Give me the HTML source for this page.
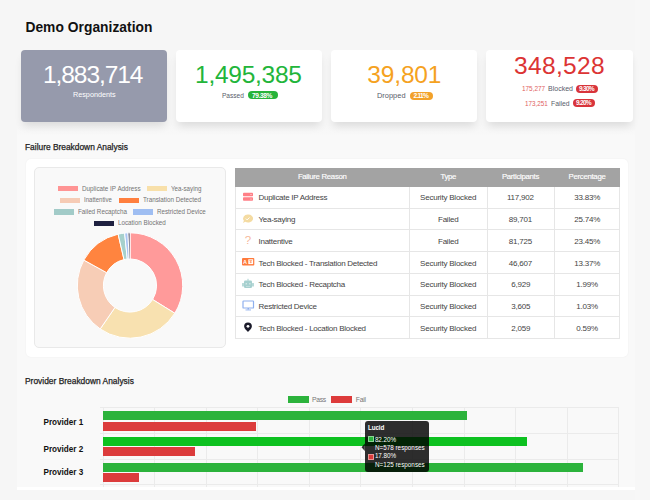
<!DOCTYPE html>
<html><head><meta charset="utf-8"><style>
html,body{margin:0;padding:0;}
body{width:650px;height:500px;overflow:hidden;position:relative;background:#f6f6f6;font-family:"Liberation Sans", sans-serif;}
</style></head><body>
<div style="position:absolute;left:17.00px;top:126.00px;width:618.00px;height:361.00px;background:linear-gradient(#f6f6f6 0px,#f9f9f9 10px);"></div>
<div style="position:absolute;left:17.00px;top:487.00px;width:618.00px;height:3.00px;background:#ffffff;"></div>
<div style="position:absolute;left:635.00px;top:0.00px;width:15.00px;height:500.00px;background:#f7f7f7;"></div>
<div style="position:absolute;left:25.40px;top:20px;line-height:16.56px;font-size:13.8px;font-weight:bold;color:#111;white-space:nowrap;letter-spacing:0.037px;">Demo Organization</div>
<div style="position:absolute;left:20.50px;top:50.00px;width:146.70px;height:71.50px;background:#969aac;box-shadow:0 6px 9px -2px rgba(0,0,0,0.11);border-radius:4px;"></div>
<div style="position:absolute;left:176.00px;top:50.00px;width:146.00px;height:72.00px;background:#fff;box-shadow:0 6px 9px -2px rgba(0,0,0,0.11);border-radius:4px;"></div>
<div style="position:absolute;left:331.00px;top:50.00px;width:146.00px;height:72.00px;background:#fff;box-shadow:0 6px 9px -2px rgba(0,0,0,0.11);border-radius:4px;"></div>
<div style="position:absolute;left:486.00px;top:50.00px;width:146.80px;height:72.00px;background:#fff;box-shadow:0 6px 9px -2px rgba(0,0,0,0.11);border-radius:4px;"></div>
<div style="position:absolute;left:43.00px;top:60px;line-height:29.4px;font-size:24.5px;font-weight:normal;color:#fff;white-space:nowrap;letter-spacing:-1.062px;">1,883,714</div>
<div style="position:absolute;left:72.80px;top:90px;line-height:9.6px;font-size:8.0px;font-weight:normal;color:#fff;white-space:nowrap;letter-spacing:0.000px;transform:scaleX(0.9043);transform-origin:0px 0;">Respondents</div>
<div style="position:absolute;left:195.00px;top:60px;line-height:29.4px;font-size:24.5px;font-weight:normal;color:#22b53a;white-space:nowrap;letter-spacing:-0.250px;">1,495,385</div>
<div style="position:absolute;left:221.70px;top:91px;line-height:9.6px;font-size:8.0px;font-weight:normal;color:#585c6a;white-space:nowrap;letter-spacing:0.000px;transform:scaleX(0.8185);transform-origin:0px 0;">Passed</div>
<div style="position:absolute;left:247.80px;top:91.20px;width:29.80px;height:8.30px;background:#27b33a;border-radius:5px;"></div>
<div style="position:absolute;left:252.10px;top:92px;line-height:7.92px;font-size:6.6px;font-weight:bold;color:#fff;white-space:nowrap;letter-spacing:-0.400px;">79.38%</div>
<div style="position:absolute;left:367.30px;top:60px;line-height:29.4px;font-size:24.5px;font-weight:normal;color:#f5a21f;white-space:nowrap;letter-spacing:-0.160px;">39,801</div>
<div style="position:absolute;left:376.70px;top:91px;line-height:9.6px;font-size:8.0px;font-weight:normal;color:#585c6a;white-space:nowrap;letter-spacing:0.000px;transform:scaleX(0.9290);transform-origin:0px 0;">Dropped</div>
<div style="position:absolute;left:410.00px;top:91.50px;width:23.00px;height:8.30px;background:#f2a12a;border-radius:5px;"></div>
<div style="position:absolute;left:413.50px;top:92px;line-height:7.92px;font-size:6.6px;font-weight:bold;color:#fff;white-space:nowrap;letter-spacing:-0.750px;">2.11%</div>
<div style="position:absolute;left:513.90px;top:51px;line-height:29.4px;font-size:24.5px;font-weight:normal;color:#dc3434;white-space:nowrap;letter-spacing:0.383px;">348,528</div>
<div style="position:absolute;left:521.60px;top:84px;line-height:9.6px;font-size:8.0px;font-weight:normal;color:#e06060;white-space:nowrap;letter-spacing:0.000px;transform:scaleX(0.8000);transform-origin:0px 0;">175,277</div>
<div style="position:absolute;left:547.80px;top:84px;line-height:9.6px;font-size:8.0px;font-weight:normal;color:#585c6a;white-space:nowrap;letter-spacing:0.000px;transform:scaleX(0.8759);transform-origin:0px 0;">Blocked</div>
<div style="position:absolute;left:576.00px;top:84.80px;width:22.10px;height:7.90px;background:#d8343b;border-radius:5px;"></div>
<div style="position:absolute;left:579.00px;top:85px;line-height:7.92px;font-size:6.6px;font-weight:bold;color:#fff;white-space:nowrap;letter-spacing:-0.750px;">9.30%</div>
<div style="position:absolute;left:525.40px;top:99px;line-height:9.6px;font-size:8.0px;font-weight:normal;color:#e06060;white-space:nowrap;letter-spacing:0.000px;transform:scaleX(0.7862);transform-origin:0px 0;">173,251</div>
<div style="position:absolute;left:551.00px;top:99px;line-height:9.6px;font-size:8.0px;font-weight:normal;color:#585c6a;white-space:nowrap;letter-spacing:0.000px;transform:scaleX(0.8500);transform-origin:0px 0;">Failed</div>
<div style="position:absolute;left:572.90px;top:99.10px;width:22.10px;height:7.90px;background:#d8343b;border-radius:5px;"></div>
<div style="position:absolute;left:576.00px;top:99px;line-height:7.92px;font-size:6.6px;font-weight:bold;color:#fff;white-space:nowrap;letter-spacing:-0.750px;">9.20%</div>
<div style="position:absolute;left:25.00px;top:142px;line-height:10.08px;font-size:8.4px;font-weight:normal;color:#222;white-space:nowrap;letter-spacing:0.000px;-webkit-text-stroke:0.25px #222;">Failure Breakdown Analysis</div>
<div style="position:absolute;left:25.60px;top:158.80px;width:602.00px;height:198.20px;background:#fff;border-radius:5px;box-shadow:0 0 2px rgba(0,0,0,0.06);"></div>
<div style="position:absolute;left:33.60px;top:167.00px;width:192.80px;height:181.00px;background:#f9f9f9;border:1px solid #e9e9e9;border-radius:5px;box-sizing:border-box;"></div>
<div style="position:absolute;left:58.00px;top:185.80px;width:20.00px;height:5.50px;background:#ff9494;"></div>
<div style="position:absolute;left:82.40px;top:185px;line-height:8.16px;font-size:6.8px;font-weight:normal;color:#747474;white-space:nowrap;letter-spacing:0.000px;transform:scaleX(0.9302);transform-origin:0px 0;">Duplicate IP Address</div>
<div style="position:absolute;left:147.40px;top:185.80px;width:20.00px;height:5.50px;background:#f8e0aa;"></div>
<div style="position:absolute;left:171.00px;top:185px;line-height:8.16px;font-size:6.8px;font-weight:normal;color:#747474;white-space:nowrap;letter-spacing:0.000px;transform:scaleX(0.9118);transform-origin:0px 0;">Yea-saying</div>
<div style="position:absolute;left:59.60px;top:197.60px;width:20.00px;height:5.50px;background:#f6cbb5;"></div>
<div style="position:absolute;left:84.00px;top:196px;line-height:8.16px;font-size:6.8px;font-weight:normal;color:#747474;white-space:nowrap;letter-spacing:0.000px;transform:scaleX(0.8875);transform-origin:0px 0;">Inattentive</div>
<div style="position:absolute;left:118.60px;top:197.60px;width:20.00px;height:5.50px;background:#ff7f3e;"></div>
<div style="position:absolute;left:142.60px;top:196px;line-height:8.16px;font-size:6.8px;font-weight:normal;color:#747474;white-space:nowrap;letter-spacing:0.000px;transform:scaleX(0.9270);transform-origin:0px 0;">Translation Detected</div>
<div style="position:absolute;left:54.00px;top:209.20px;width:20.00px;height:5.50px;background:#a2cbc8;"></div>
<div style="position:absolute;left:78.00px;top:208px;line-height:8.16px;font-size:6.8px;font-weight:normal;color:#747474;white-space:nowrap;letter-spacing:0.000px;transform:scaleX(0.9245);transform-origin:0px 0;">Failed Recaptcha</div>
<div style="position:absolute;left:133.00px;top:209.20px;width:20.00px;height:5.50px;background:#9fbef2;"></div>
<div style="position:absolute;left:157.00px;top:208px;line-height:8.16px;font-size:6.8px;font-weight:normal;color:#747474;white-space:nowrap;letter-spacing:0.000px;transform:scaleX(0.9148);transform-origin:0px 0;">Restricted Device</div>
<div style="position:absolute;left:94.00px;top:220.80px;width:20.00px;height:5.50px;background:#1e2040;"></div>
<div style="position:absolute;left:118.00px;top:219px;line-height:8.16px;font-size:6.8px;font-weight:normal;color:#747474;white-space:nowrap;letter-spacing:0.000px;transform:scaleX(0.9231);transform-origin:0px 0;">Location Blocked</div>
<svg style="position:absolute;left:0;top:0" width="650" height="500"><path d="M130.00,232.80 A52.7,52.7 0 0 1 174.80,313.26 L152.61,299.51 A26.6,26.6 0 0 0 130.00,258.90 Z" fill="#ff9a9a" stroke="#fff" stroke-width="1"/><path d="M174.80,313.26 A52.7,52.7 0 0 1 100.20,328.96 L114.96,307.44 A26.6,26.6 0 0 0 152.61,299.51 Z" fill="#f8e1b0" stroke="#fff" stroke-width="1"/><path d="M100.20,328.96 A52.7,52.7 0 0 1 83.84,260.07 L106.70,272.66 A26.6,26.6 0 0 0 114.96,307.44 Z" fill="#f7cdb6" stroke="#fff" stroke-width="1"/><path d="M83.84,260.07 A52.7,52.7 0 0 1 118.14,234.15 L124.01,259.58 A26.6,26.6 0 0 0 106.70,272.66 Z" fill="#ff843f" stroke="#fff" stroke-width="1"/><path d="M118.14,234.15 A52.7,52.7 0 0 1 124.63,233.07 L127.29,259.04 A26.6,26.6 0 0 0 124.01,259.58 Z" fill="#a6d0cc" stroke="#fff" stroke-width="1"/><path d="M124.63,233.07 A52.7,52.7 0 0 1 128.04,232.84 L129.01,258.92 A26.6,26.6 0 0 0 127.29,259.04 Z" fill="#a9c4f3" stroke="#fff" stroke-width="1"/><path d="M128.04,232.84 A52.7,52.7 0 0 1 130.00,232.80 L130.00,258.90 A26.6,26.6 0 0 0 129.01,258.92 Z" fill="#1e2040" stroke="#fff" stroke-width="1"/></svg>
<div style="position:absolute;left:235.00px;top:167.50px;width:384.50px;height:19.00px;background:#a3a3a3;"></div>
<div style="position:absolute;left:235.00px;top:186.50px;width:1.00px;height:151.90px;background:#e6e6e6;"></div>
<div style="position:absolute;left:618.50px;top:186.50px;width:1.00px;height:151.90px;background:#e6e6e6;"></div>
<div style="position:absolute;left:409.35px;top:186.50px;width:1.00px;height:151.90px;background:#e6e6e6;"></div>
<div style="position:absolute;left:486.50px;top:186.50px;width:1.00px;height:151.90px;background:#e6e6e6;"></div>
<div style="position:absolute;left:554.00px;top:186.50px;width:1.00px;height:151.90px;background:#e6e6e6;"></div>
<div style="position:absolute;left:235.00px;top:207.70px;width:385.00px;height:1.00px;background:#e6e6e6;"></div>
<div style="position:absolute;left:235.00px;top:229.40px;width:385.00px;height:1.00px;background:#e6e6e6;"></div>
<div style="position:absolute;left:235.00px;top:251.10px;width:385.00px;height:1.00px;background:#e6e6e6;"></div>
<div style="position:absolute;left:235.00px;top:272.80px;width:385.00px;height:1.00px;background:#e6e6e6;"></div>
<div style="position:absolute;left:235.00px;top:294.50px;width:385.00px;height:1.00px;background:#e6e6e6;"></div>
<div style="position:absolute;left:235.00px;top:316.20px;width:385.00px;height:1.00px;background:#e6e6e6;"></div>
<div style="position:absolute;left:235.00px;top:337.90px;width:385.00px;height:1.00px;background:#e6e6e6;"></div>
<div style="position:absolute;left:297.88px;top:172px;line-height:9.36px;font-size:7.8px;font-weight:normal;color:#fff;white-space:nowrap;letter-spacing:-0.300px;-webkit-text-stroke:0.15px #fff;">Failure Reason</div>
<div style="position:absolute;left:440.38px;top:172px;line-height:9.36px;font-size:7.8px;font-weight:normal;color:#fff;white-space:nowrap;letter-spacing:-0.300px;-webkit-text-stroke:0.15px #fff;">Type</div>
<div style="position:absolute;left:501.90px;top:172px;line-height:9.36px;font-size:7.8px;font-weight:normal;color:#fff;white-space:nowrap;letter-spacing:-0.300px;-webkit-text-stroke:0.15px #fff;">Participants</div>
<div style="position:absolute;left:568.60px;top:172px;line-height:9.36px;font-size:7.8px;font-weight:normal;color:#fff;white-space:nowrap;letter-spacing:-0.300px;-webkit-text-stroke:0.15px #fff;">Percentage</div>
<div style="position:absolute;left:258.50px;top:193px;line-height:9.6px;font-size:8.0px;font-weight:normal;color:#444;white-space:nowrap;letter-spacing:-0.220px;letter-spacing:-0.27px;">Duplicate IP Address</div>
<div style="position:absolute;left:420.07px;top:193px;line-height:9.6px;font-size:8.0px;font-weight:normal;color:#444;white-space:nowrap;letter-spacing:-0.220px;">Security Blocked</div>
<div style="position:absolute;left:506.91px;top:193px;line-height:9.6px;font-size:8.0px;font-weight:normal;color:#444;white-space:nowrap;letter-spacing:-0.220px;">117,902</div>
<div style="position:absolute;left:574.30px;top:193px;line-height:9.6px;font-size:8.0px;font-weight:normal;color:#444;white-space:nowrap;letter-spacing:-0.220px;">33.83%</div>
<div style="position:absolute;left:258.50px;top:215px;line-height:9.6px;font-size:8.0px;font-weight:normal;color:#444;white-space:nowrap;letter-spacing:-0.220px;letter-spacing:-0.27px;">Yea-saying</div>
<div style="position:absolute;left:437.98px;top:215px;line-height:9.6px;font-size:8.0px;font-weight:normal;color:#444;white-space:nowrap;letter-spacing:-0.220px;">Failed</div>
<div style="position:absolute;left:508.80px;top:215px;line-height:9.6px;font-size:8.0px;font-weight:normal;color:#444;white-space:nowrap;letter-spacing:-0.220px;">89,701</div>
<div style="position:absolute;left:574.30px;top:215px;line-height:9.6px;font-size:8.0px;font-weight:normal;color:#444;white-space:nowrap;letter-spacing:-0.220px;">25.74%</div>
<div style="position:absolute;left:258.50px;top:237px;line-height:9.6px;font-size:8.0px;font-weight:normal;color:#444;white-space:nowrap;letter-spacing:-0.220px;letter-spacing:-0.27px;">Inattentive</div>
<div style="position:absolute;left:437.98px;top:237px;line-height:9.6px;font-size:8.0px;font-weight:normal;color:#444;white-space:nowrap;letter-spacing:-0.220px;">Failed</div>
<div style="position:absolute;left:508.80px;top:237px;line-height:9.6px;font-size:8.0px;font-weight:normal;color:#444;white-space:nowrap;letter-spacing:-0.220px;">81,725</div>
<div style="position:absolute;left:574.30px;top:237px;line-height:9.6px;font-size:8.0px;font-weight:normal;color:#444;white-space:nowrap;letter-spacing:-0.220px;">23.45%</div>
<div style="position:absolute;left:258.50px;top:259px;line-height:9.6px;font-size:8.0px;font-weight:normal;color:#444;white-space:nowrap;letter-spacing:-0.220px;letter-spacing:-0.27px;">Tech Blocked - Translation Detected</div>
<div style="position:absolute;left:420.07px;top:259px;line-height:9.6px;font-size:8.0px;font-weight:normal;color:#444;white-space:nowrap;letter-spacing:-0.220px;">Security Blocked</div>
<div style="position:absolute;left:508.80px;top:259px;line-height:9.6px;font-size:8.0px;font-weight:normal;color:#444;white-space:nowrap;letter-spacing:-0.220px;">46,607</div>
<div style="position:absolute;left:574.30px;top:259px;line-height:9.6px;font-size:8.0px;font-weight:normal;color:#444;white-space:nowrap;letter-spacing:-0.220px;">13.37%</div>
<div style="position:absolute;left:258.50px;top:280px;line-height:9.6px;font-size:8.0px;font-weight:normal;color:#444;white-space:nowrap;letter-spacing:-0.220px;letter-spacing:-0.27px;">Tech Blocked - Recaptcha</div>
<div style="position:absolute;left:420.07px;top:280px;line-height:9.6px;font-size:8.0px;font-weight:normal;color:#444;white-space:nowrap;letter-spacing:-0.220px;">Security Blocked</div>
<div style="position:absolute;left:511.19px;top:280px;line-height:9.6px;font-size:8.0px;font-weight:normal;color:#444;white-space:nowrap;letter-spacing:-0.220px;">6,929</div>
<div style="position:absolute;left:576.19px;top:280px;line-height:9.6px;font-size:8.0px;font-weight:normal;color:#444;white-space:nowrap;letter-spacing:-0.220px;">1.99%</div>
<div style="position:absolute;left:258.50px;top:302px;line-height:9.6px;font-size:8.0px;font-weight:normal;color:#444;white-space:nowrap;letter-spacing:-0.220px;letter-spacing:-0.27px;">Restricted Device</div>
<div style="position:absolute;left:420.07px;top:302px;line-height:9.6px;font-size:8.0px;font-weight:normal;color:#444;white-space:nowrap;letter-spacing:-0.220px;">Security Blocked</div>
<div style="position:absolute;left:511.19px;top:302px;line-height:9.6px;font-size:8.0px;font-weight:normal;color:#444;white-space:nowrap;letter-spacing:-0.220px;">3,605</div>
<div style="position:absolute;left:576.19px;top:302px;line-height:9.6px;font-size:8.0px;font-weight:normal;color:#444;white-space:nowrap;letter-spacing:-0.220px;">1.03%</div>
<div style="position:absolute;left:258.50px;top:324px;line-height:9.6px;font-size:8.0px;font-weight:normal;color:#444;white-space:nowrap;letter-spacing:-0.220px;letter-spacing:-0.27px;">Tech Blocked - Location Blocked</div>
<div style="position:absolute;left:420.07px;top:324px;line-height:9.6px;font-size:8.0px;font-weight:normal;color:#444;white-space:nowrap;letter-spacing:-0.220px;">Security Blocked</div>
<div style="position:absolute;left:511.19px;top:324px;line-height:9.6px;font-size:8.0px;font-weight:normal;color:#444;white-space:nowrap;letter-spacing:-0.220px;">2,059</div>
<div style="position:absolute;left:576.19px;top:324px;line-height:9.6px;font-size:8.0px;font-weight:normal;color:#444;white-space:nowrap;letter-spacing:-0.220px;">0.59%</div>
<svg style="position:absolute;left:0;top:0" width="650" height="500"><rect x="243" y="192.7" width="10" height="3.6" rx="0.8" fill="#ff7f86"/><rect x="243" y="197.2" width="10" height="3.6" rx="0.8" fill="#ff7f86"/><circle cx="251" cy="194.5" r="0.5" fill="#fff"/><circle cx="251" cy="199" r="0.5" fill="#fff"/><path d="M247.8,214.5 a5,4 0 1 1 -2.5,7.3 l-2.4,1.2 l1,-2.3 a5,4 0 0 1 3.9,-6.2z" fill="#f4dba2"/><path d="M245.8,218.6 l1.3,1.3 l2.4,-2.4" stroke="#fff" stroke-width="0.9" fill="none"/><text x="247.9" y="244.3" font-family="Liberation Sans" font-size="11.5" fill="#f6b89a" text-anchor="middle">?</text><rect x="242" y="258" width="12.3" height="7.4" rx="1" fill="#ff7a3c"/><text x="245" y="264" font-family="Liberation Sans" font-weight="bold" font-size="5.5" fill="#fff" text-anchor="middle">A</text><rect x="248.3" y="259.3" width="4.8" height="4.8" fill="#fff"/><path d="M249.3,260.6 h2.8 M250.7,260.6 v2.6 M249.6,262.2 h2.2" stroke="#ff7a3c" stroke-width="0.6" fill="none"/><rect x="244" y="280.6" width="8" height="7.4" rx="1.3" fill="#a6d0cf"/><rect x="242.2" y="282.9" width="1.6" height="3.6" rx="0.5" fill="#a6d0cf"/><rect x="252.2" y="282.9" width="1.6" height="3.6" rx="0.5" fill="#a6d0cf"/><rect x="247.5" y="278.8" width="1" height="2" fill="#a6d0cf"/><rect x="245.6" y="283.2" width="1.3" height="1.2" fill="#e3f0f0"/><rect x="249.2" y="283.2" width="1.3" height="1.2" fill="#e3f0f0"/><rect x="246" y="286" width="4" height="0.6" fill="#d5e8e8"/><rect x="243" y="301" width="10.5" height="7" rx="0.6" fill="none" stroke="#8fb0ee" stroke-width="1.2"/><rect x="247.5" y="308" width="1.5" height="1.5" fill="#8fb0ee"/><rect x="245.5" y="309.5" width="5.5" height="0.9" fill="#8fb0ee"/><path d="M248,322.4 a3.9,3.9 0 0 1 3.9,3.9 c0,2.3 -2.6,4.2 -3.9,5.7 c-1.3,-1.5 -3.9,-3.4 -3.9,-5.7 a3.9,3.9 0 0 1 3.9,-3.9z" fill="#1b1b2a"/><circle cx="248" cy="326.3" r="1.4" fill="#fff"/></svg>
<div style="position:absolute;left:25.00px;top:376px;line-height:10.08px;font-size:8.4px;font-weight:normal;color:#222;white-space:nowrap;letter-spacing:0.015px;-webkit-text-stroke:0.25px #222;">Provider Breakdown Analysis</div>
<div style="position:absolute;left:287.50px;top:396.40px;width:21.30px;height:6.50px;background:#2cb33c;"></div>
<div style="position:absolute;left:312.00px;top:396px;line-height:8.16px;font-size:6.8px;font-weight:normal;color:#777;white-space:nowrap;letter-spacing:-0.333px;">Pass</div>
<div style="position:absolute;left:331.30px;top:396.40px;width:21.20px;height:6.50px;background:#dd3b3b;"></div>
<div style="position:absolute;left:355.80px;top:396px;line-height:8.16px;font-size:6.8px;font-weight:normal;color:#777;white-space:nowrap;letter-spacing:-0.267px;">Fail</div>
<div style="position:absolute;left:102.90px;top:407.80px;width:1.00px;height:79.60px;background:#ebebeb;"></div>
<div style="position:absolute;left:154.10px;top:407.80px;width:1.00px;height:79.60px;background:#ebebeb;"></div>
<div style="position:absolute;left:206.10px;top:407.80px;width:1.00px;height:79.60px;background:#ebebeb;"></div>
<div style="position:absolute;left:257.10px;top:407.80px;width:1.00px;height:79.60px;background:#ebebeb;"></div>
<div style="position:absolute;left:309.10px;top:407.80px;width:1.00px;height:79.60px;background:#ebebeb;"></div>
<div style="position:absolute;left:360.10px;top:407.80px;width:1.00px;height:79.60px;background:#ebebeb;"></div>
<div style="position:absolute;left:411.90px;top:407.80px;width:1.00px;height:79.60px;background:#ebebeb;"></div>
<div style="position:absolute;left:463.90px;top:407.80px;width:1.00px;height:79.60px;background:#ebebeb;"></div>
<div style="position:absolute;left:515.10px;top:407.80px;width:1.00px;height:79.60px;background:#ebebeb;"></div>
<div style="position:absolute;left:566.90px;top:407.80px;width:1.00px;height:79.60px;background:#ebebeb;"></div>
<div style="position:absolute;left:618.10px;top:407.80px;width:1.00px;height:79.60px;background:#ebebeb;"></div>
<div style="position:absolute;left:99.60px;top:407.30px;width:519.50px;height:1.00px;background:#ebebeb;"></div>
<div style="position:absolute;left:99.60px;top:432.90px;width:519.50px;height:1.00px;background:#ebebeb;"></div>
<div style="position:absolute;left:99.60px;top:458.70px;width:519.50px;height:1.00px;background:#ebebeb;"></div>
<div style="position:absolute;left:99.60px;top:484.40px;width:519.50px;height:1.00px;background:#ebebeb;"></div>
<div style="position:absolute;left:103.40px;top:411.00px;width:363.40px;height:9.00px;background:#2cb33c;"></div>
<div style="position:absolute;left:103.40px;top:421.60px;width:152.20px;height:9.00px;background:#dc3c3c;"></div>
<div style="position:absolute;left:103.40px;top:437.00px;width:423.80px;height:9.00px;background:#0dc120;"></div>
<div style="position:absolute;left:103.40px;top:447.40px;width:91.30px;height:9.00px;background:#dc3c3c;"></div>
<div style="position:absolute;left:103.40px;top:463.00px;width:479.40px;height:9.00px;background:#2cb33c;"></div>
<div style="position:absolute;left:103.40px;top:473.00px;width:36.00px;height:9.00px;background:#dc3c3c;"></div>
<div style="position:absolute;left:43.55px;top:418px;line-height:9.78px;font-size:8.15px;font-weight:bold;color:#111;white-space:nowrap;letter-spacing:-0.006px;">Provider 1</div>
<div style="position:absolute;left:43.55px;top:445px;line-height:9.78px;font-size:8.15px;font-weight:bold;color:#111;white-space:nowrap;letter-spacing:-0.006px;">Provider 2</div>
<div style="position:absolute;left:43.55px;top:468px;line-height:9.78px;font-size:8.15px;font-weight:bold;color:#111;white-space:nowrap;letter-spacing:-0.006px;">Provider 3</div>
<div style="position:absolute;left:364.80px;top:421.40px;width:63.80px;height:50.50px;background:rgba(0,0,0,0.82);border-radius:3px;"></div>
<svg style="position:absolute;left:0;top:0" width="650" height="500"><path d="M364.8,443.5 L361.5,447.2 L364.8,450.9 Z" fill="rgba(0,0,0,0.82)"/></svg>
<div style="position:absolute;left:367.90px;top:424px;line-height:7.56px;font-size:6.3px;font-weight:bold;color:#fff;white-space:nowrap;letter-spacing:-0.100px;">Lucid</div>
<div style="position:absolute;left:367.90px;top:436.20px;width:5.80px;height:6.10px;background:#2cb33c;border:0.6px solid rgba(255,255,255,0.45);box-sizing:border-box;"></div>
<div style="position:absolute;left:374.90px;top:436px;line-height:7.56px;font-size:6.3px;font-weight:normal;color:#fff;white-space:nowrap;letter-spacing:-0.020px;">82.20%</div>
<div style="position:absolute;left:374.90px;top:444px;line-height:7.56px;font-size:6.3px;font-weight:normal;color:#fff;white-space:nowrap;letter-spacing:0.021px;">N=578 responses</div>
<div style="position:absolute;left:367.90px;top:453.80px;width:5.80px;height:5.80px;background:#dc3c3c;border:0.6px solid rgba(255,255,255,0.45);box-sizing:border-box;"></div>
<div style="position:absolute;left:374.90px;top:452px;line-height:7.56px;font-size:6.3px;font-weight:normal;color:#fff;white-space:nowrap;letter-spacing:-0.020px;">17.80%</div>
<div style="position:absolute;left:374.90px;top:461px;line-height:7.56px;font-size:6.3px;font-weight:normal;color:#fff;white-space:nowrap;letter-spacing:0.021px;">N=125 responses</div>
</body></html>
